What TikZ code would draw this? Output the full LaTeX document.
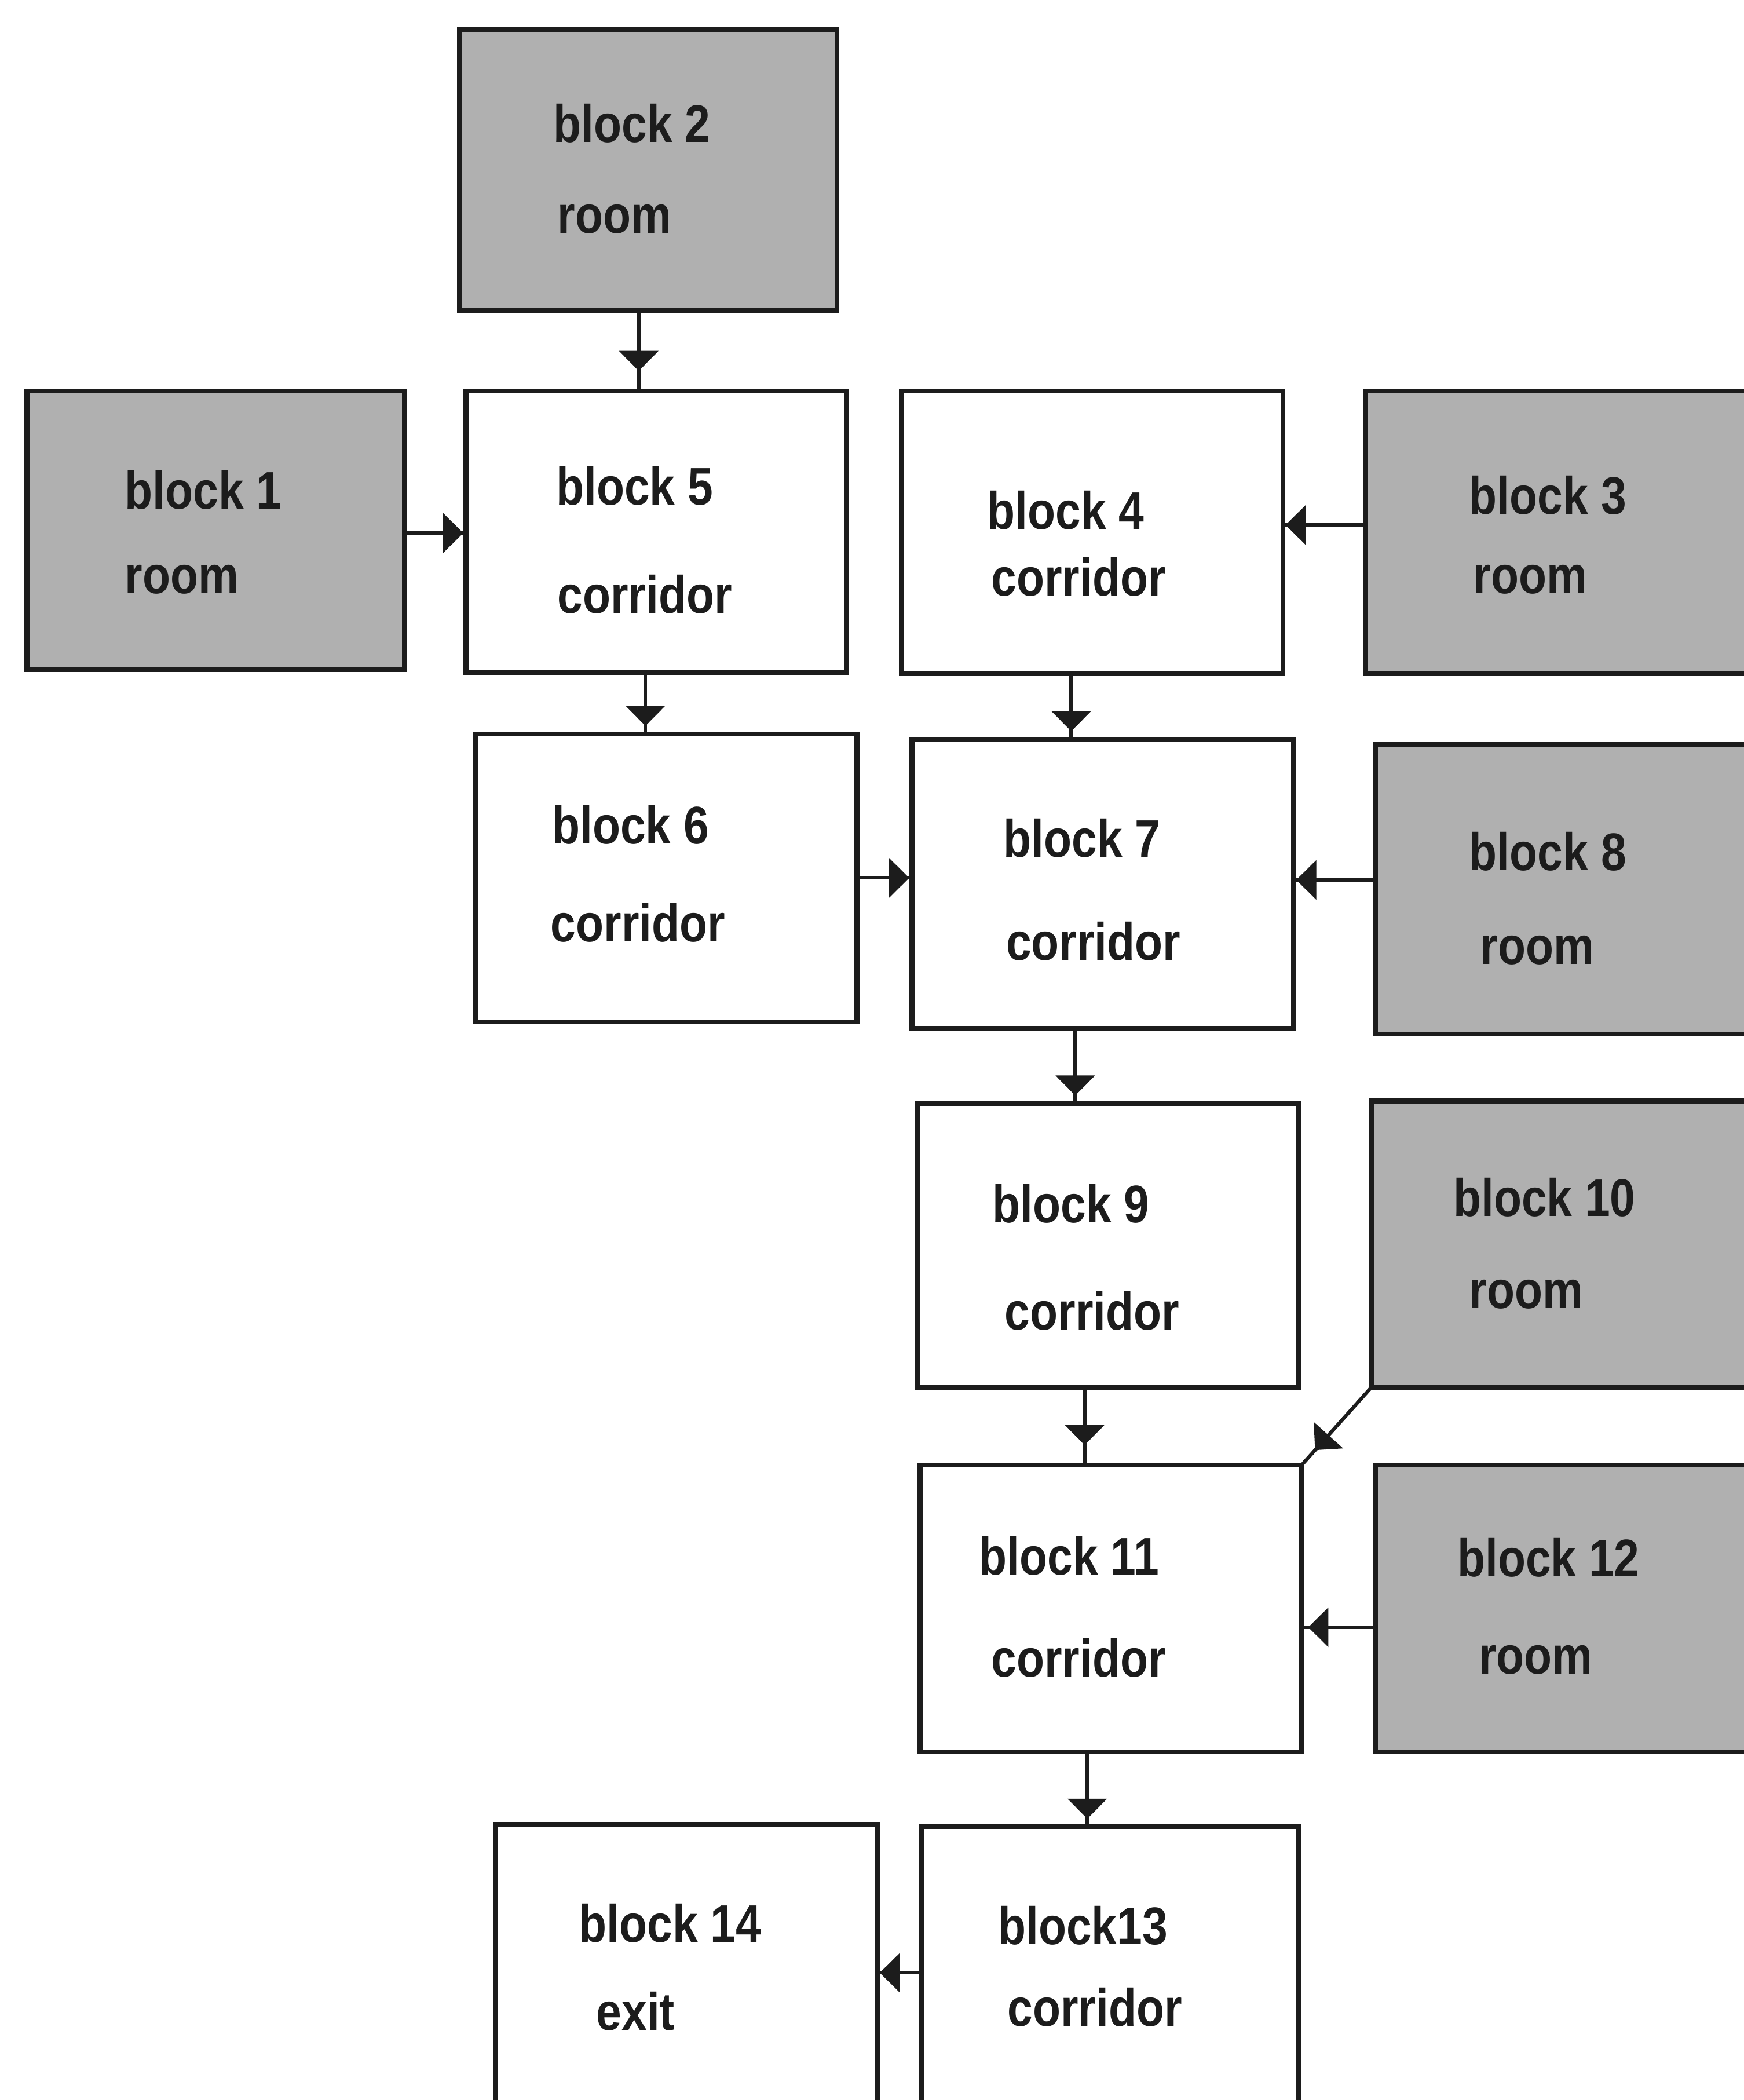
\documentclass[tikz,border=0pt]{standalone}
\usepackage{fontspec}
\newfontfamily\lblfont{Liberation Sans}[FakeStretch=0.86]
\usetikzlibrary{arrows.meta,decorations.markings}
\definecolor{roomgray}{RGB}{176,176,176}
\definecolor{ink}{RGB}{28,28,28}

\tikzset{
  blockbox/.style={draw=ink, line width=2.1pt, inner sep=0pt, outer sep=0pt, fill=white},
  roombox/.style={blockbox, fill=roomgray},
  lbl/.style={anchor=base west, inner sep=0pt, text=ink,
    font=\lblfont\bfseries\fontsize{22.5}{27}\selectfont},
  conn/.style={draw=ink, line width=1.5pt, postaction={decorate},
    decoration={markings, mark=at position -#1 with
      {\arrow{Triangle[length=0.3cm,width=0.58cm]}}}},
  conn/.default=0.12cm
}

% block drawn from its two corners: style, name, x1, y1, x2, y2
\newcommand\blockat[6]{%
  \node[#1, minimum width={(#5-#3)*0.02cm}, minimum height={(#6-#4)*0.02cm}]
    (#2) at ({(#3+#5)/2},{(#4+#6)/2}) {};}

\begin{document}
\begin{tikzpicture}[x=0.02cm, y=-0.02cm]
  \fill[white] (0,0) rectangle (1302,1568);
  \useasboundingbox (0,0) rectangle (1302,1568);

  % rooms (grey) and corridors (white)
  \blockat{roombox}{b2}{343}{22}{625}{232}
  \blockat{roombox}{b1}{20}{292}{302}{500}
  \blockat{blockbox}{b5}{348}{292}{632}{502}
  \blockat{blockbox}{b4}{673}{292}{958}{503}
  \blockat{roombox}{b3}{1020}{292}{1360}{503}
  \blockat{blockbox}{b6}{355}{548}{640}{763}
  \blockat{blockbox}{b7}{681}{552}{966}{768}
  \blockat{roombox}{b8}{1027}{556}{1360}{772}
  \blockat{blockbox}{b9}{685}{824}{970}{1036}
  \blockat{roombox}{b10}{1024}{822}{1360}{1036}
  \blockat{blockbox}{b11}{687}{1094}{972}{1308}
  \blockat{roombox}{b12}{1027}{1094}{1360}{1308}
  \blockat{blockbox}{b14}{370}{1362}{655}{1640}
  \blockat{blockbox}{b13}{688}{1364}{970}{1640}

  % labels
  \node[lbl] (t2a) at (413,106) {block 2};
  \node[lbl] (t2b) at (416,174) {room};
  \node[lbl] (t1a) at (93,380) {block 1};
  \node[lbl] (t1b) at (93,443) {room};
  \node[lbl] (t5a) at (415,377) {block 5};
  \node[lbl] (t5b) at (416,458) {corridor};
  \node[lbl] (t4a) at (737,395) {block 4};
  \node[lbl] (t4b) at (740,445) {corridor};
  \node[lbl] (t3a) at (1097,384) {block 3};
  \node[lbl] (t3b) at (1100,443) {room};
  \node[lbl] (t6a) at (412,630) {block 6};
  \node[lbl] (t6b) at (411,703) {corridor};
  \node[lbl] (t7a) at (749,640) {block 7};
  \node[lbl] (t7b) at (751,717) {corridor};
  \node[lbl] (t8a) at (1097,650) {block 8};
  \node[lbl] (t8b) at (1105,720) {room};
  \node[lbl] (t9a) at (741,913) {block 9};
  \node[lbl] (t9b) at (750,993) {corridor};
  \node[lbl] (t10a) at (1085,908) {block 10};
  \node[lbl] (t10b) at (1097,977) {room};
  \node[lbl] (t11a) at (731,1176) {block 11};
  \node[lbl] (t11b) at (740,1252) {corridor};
  \node[lbl] (t12a) at (1088,1177) {block 12};
  \node[lbl] (t12b) at (1104,1250) {room};
  \node[lbl] (t14a) at (432,1450) {block 14};
  \node[lbl] (t14b) at (445,1516) {exit};
  \node[lbl] (t13a) at (745,1452) {block13};
  \node[lbl] (t13b) at (752,1513) {corridor};

  % connector start points on the source blocks
  \path (b2.south) ++(-7,0) coordinate (s25);
  \path (b5.south) ++(-8,0) coordinate (s56);
  \path (b4.south) ++(-15.5,0) coordinate (s47);
  \path (b7.south) ++(-20.5,0) coordinate (s79);
  \path (b9.south) ++(-17.5,0) coordinate (s911);
  \path (b11.south) ++(-17.5,0) coordinate (s1113);
  \path (b1.east) ++(0,2) coordinate (s15);
  \path (b3.west) ++(0,-5.5) coordinate (s34);
  \path (b6.east) ++(0,0) coordinate (s67);
  \path (b8.west) ++(0,-7) coordinate (s87);
  \path (b12.west) ++(0,14) coordinate (s1211);
  \path (b13.north west) ++(0,109) coordinate (s1314);

  % connectors
  \draw[conn=0.3cm] (s25) -- (s25 |- b5.north);
  \draw[conn] (s56) -- (s56 |- b6.north);
  \draw[conn] (s47) -- (s47 |- b7.north);
  \draw[conn] (s79) -- (s79 |- b9.north);
  \draw[conn=0.3cm] (s911) -- (s911 |- b11.north);
  \draw[conn] (s1113) -- (s1113 |- b13.north);
  \draw[conn=0.04cm] (s15) -- (s15 -| b5.west);
  \draw[conn=0.04cm] (s34) -- (s34 -| b4.east);
  \draw[conn=0.04cm] (s67) -- (s67 -| b7.west);
  \draw[conn=0.04cm] (s87) -- (s87 -| b7.east);
  \draw[conn=0.1cm] (s1211) -- (s1211 -| b11.east);
  \draw[conn=0.04cm] (s1314) -- (s1314 -| b14.east);
  \draw[conn=0.3cm] (b10.south west) -- (b11.north east);
\end{tikzpicture}
\end{document}
